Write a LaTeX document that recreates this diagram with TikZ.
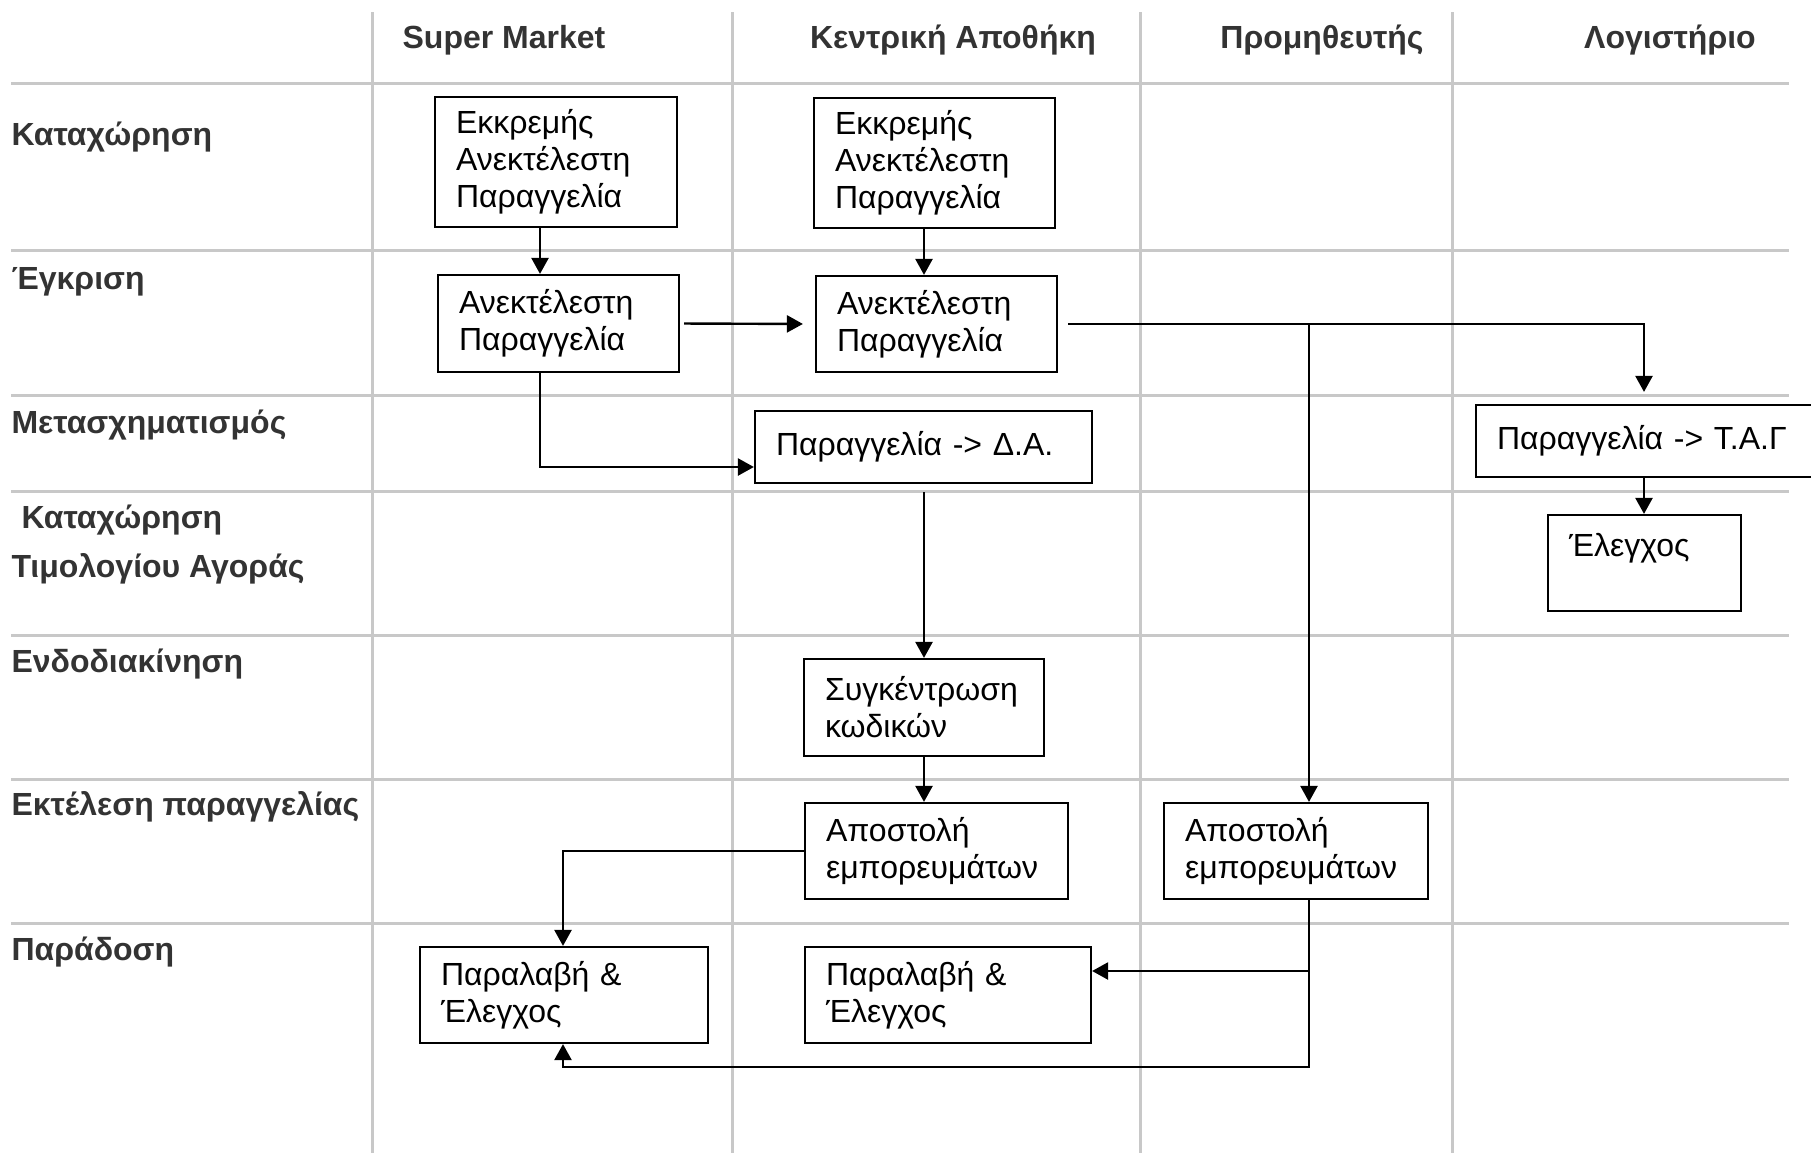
\documentclass[tikz,border=0pt]{standalone}
\usepackage{fontspec}
\setmainfont{Liberation Sans}
\usetikzlibrary{arrows.meta}

\tikzset{every picture/.style={line width=0.5pt}}
\tikzset{
  lane/.style={draw={rgb, 255:red, 200; green, 200; blue, 200 }, line width=1.5pt},
  lanetitle/.style={inner sep=0pt, font=\bfseries\fontsize{16}{18.5}\selectfont, text={rgb, 255:red, 51; green, 51; blue, 51 }},
  procbox/.style={draw, line width=1.1pt, inner xsep=10.5pt, inner ysep=0pt, align=left, font=\fontsize{16}{18.5}\selectfont},
  flow/.style={line width=1.2pt, -{Triangle[length=8pt,width=8.5pt]}},
}

\begin{document}
\begin{tikzpicture}[x=0.5pt,y=0.5pt,yscale=-1,xscale=1]
\useasboundingbox (0,0) rectangle (1811,1153);

%Straight Lines: swimlane columns
\draw [lane] (372,12) -- (372,1153) ;
\draw [lane] (732,12) -- (732,1153) ;
\draw [lane] (1140,12) -- (1140,1153) ;
\draw [lane] (1452,12) -- (1452,1153) ;
%Straight Lines: swimlane rows
\draw [lane] (11,83) -- (1789,83) ;
\draw [lane] (11,250) -- (1789,250) ;
\draw [lane] (11,395) -- (1789,395) ;
\draw [lane] (11,491) -- (1789,491) ;
\draw [lane] (11,635) -- (1789,635) ;
\draw [lane] (11,779) -- (1789,779) ;
\draw [lane] (11,923) -- (1789,923) ;

% Text Node
\node [lanetitle, anchor=base] (smtitle) at (504,48) {Super Market};
% Text Node
\node [lanetitle, anchor=base] (katitle) at (953,48) {Κεντρική Αποθήκη};
% Text Node
\node [lanetitle, anchor=base] (prtitle) at (1322,48) {Προμηθευτής};
% Text Node
\node [lanetitle, anchor=base] (lotitle) at (1670,48) {Λογιστήριο};

% Text Node
\node [lanetitle, anchor=base west] (rowentry) at (11,145) {Καταχώρηση};
% Text Node
\node [lanetitle, anchor=base west] (rowapprove) at (11,289) {Έγκριση};
% Text Node
\node [lanetitle, anchor=base west] (rowtransform) at (11,433) {Μετασχηματισμός};
% Text Node
\node [lanetitle, anchor=base west] (rowinvoice) at (21,528) {Καταχώρηση};
\node [lanetitle, anchor=base west] (rowinvoicetwo) at (11,577) {Τιμολογίου Αγοράς};
% Text Node
\node [lanetitle, anchor=base west] (rowtransfer) at (11,672) {Ενδοδιακίνηση};
% Text Node
\node [lanetitle, anchor=base west] (rowexecute) at (11,815) {Εκτέλεση παραγγελίας};
% Text Node
\node [lanetitle, anchor=base west] (rowdeliver) at (11,960) {Παράδοση};

%Shape: Rectangle
\node [procbox, text width=100pt, minimum height=65pt] (smpend) at (556,162) {Εκκρεμής\\Ανεκτέλεστη\\Παραγγελία};
%Shape: Rectangle
\node [procbox, text width=99.5pt, minimum height=65pt] (kapend) at (934.5,163) {Εκκρεμής\\Ανεκτέλεστη\\Παραγγελία};
%Shape: Rectangle
\node [procbox, text width=99.5pt, minimum height=48.5pt] (smord) at (558.5,323.5) {Ανεκτέλεστη\\Παραγγελία};
%Shape: Rectangle
\node [procbox, text width=99.5pt, minimum height=48pt] (kaord) at (936.5,324) {Ανεκτέλεστη\\Παραγγελία};
%Shape: Rectangle
\node [procbox, text width=147.5pt, minimum height=36pt] (kada) at (923.5,447) {Παραγγελία -> Δ.Α.};
%Shape: Rectangle
\node [procbox, text width=156pt, minimum height=36pt] (lotag) at (1653,441) {Παραγγελία -> Τ.Α.Γ};
%Shape: Rectangle
\node [procbox, text width=75.5pt, minimum height=48pt] (locheck) at (1644.5,563) {Έλεγχος\\[-6pt]\strut};
%Shape: Rectangle
\node [procbox, text width=99pt, minimum height=48.5pt] (kacollect) at (924,707.5) {Συγκέντρωση\\κωδικών};
%Shape: Rectangle
\node [procbox, text width=110.5pt, minimum height=48pt] (kasend) at (936.5,851) {Αποστολή\\εμπορευμάτων};
%Shape: Rectangle
\node [procbox, text width=111pt, minimum height=48pt] (prsend) at (1296,851) {Αποστολή\\εμπορευμάτων};
%Shape: Rectangle
\node [procbox, text width=123pt, minimum height=48pt] (smreceive) at (564,995) {Παραλαβή \&\\Έλεγχος};
%Shape: Rectangle
\node [procbox, text width=122pt, minimum height=48pt] (kareceive) at (948,995) {Παραλαβή \&\\Έλεγχος};

% route guides
\coordinate (smline) at (540,0);
\coordinate (kaline) at (924,0);
\coordinate (prline) at (1309,0);
\coordinate (loline) at (1644,0);
\coordinate (smback) at (563,0);
\coordinate (daline) at (0,467);
\coordinate (prsplit) at (0,971);
\coordinate (retour) at (0,1067);

%Straight Lines
\draw [flow] (smpend.south -| smline) -- (smord.north -| smline) ;
%Straight Lines
\draw [flow] (kapend.south -| kaline) -- (kaord.north -| kaline) ;
%Straight Lines
\draw [flow, shorten <=2pt, shorten >=6pt] (smord.east) -- (kaord.west) ;
%Straight Lines
\draw [flow, shorten <=5pt, shorten >=6pt] (kaord.east) -| (lotag.north -| loline) ;
%Straight Lines
\draw [flow] (kaord.east -| prline) -- (prsend.north -| prline) ;
%Straight Lines
\draw [flow] (smord.south -| smline) |- (kada.west |- daline) ;
%Straight Lines
\draw [flow, shorten <=4pt] (kada.south -| kaline) -- (kacollect.north -| kaline) ;
%Straight Lines
\draw [flow] (kacollect.south -| kaline) -- (kasend.north -| kaline) ;
%Straight Lines
\draw [flow] (lotag.south -| loline) -- (locheck.north -| loline) ;
%Straight Lines
\draw [flow] (kasend.west) -| (smreceive.north -| smback) ;
%Straight Lines
\draw [flow] (prsend.south -| prline) |- (kareceive.east |- prsplit) ;
%Straight Lines
\draw [flow] (prsplit -| prline) -- (retour -| prline) -| (smreceive.south -| smback) ;

\end{tikzpicture}
\end{document}
